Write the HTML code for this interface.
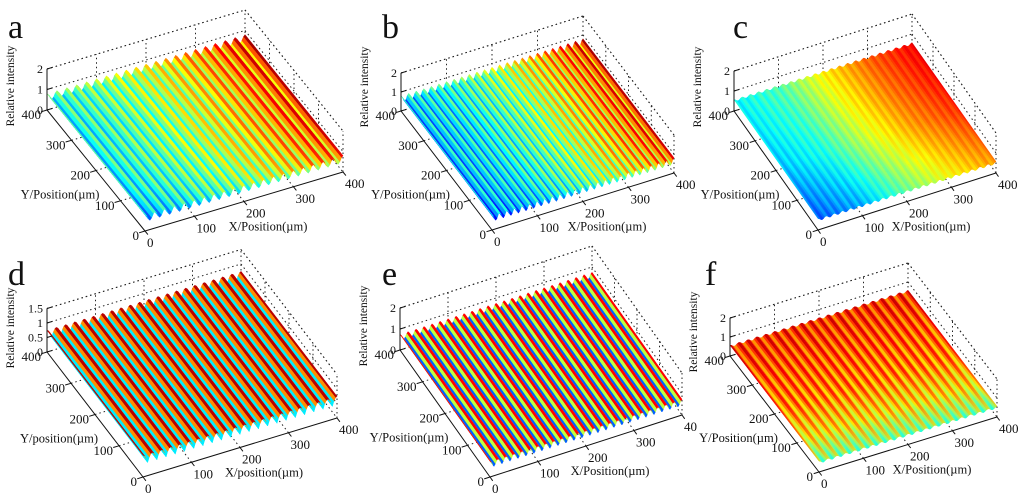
<!DOCTYPE html>
<html><head><meta charset="utf-8">
<style>
html,body{margin:0;padding:0;background:#fff;}
svg{display:block;}
text{font-family:"Liberation Serif",serif;fill:#111;}
</style></head>
<body>
<svg id="fig" width="1024" height="500" viewBox="0 0 1024 500" xmlns="http://www.w3.org/2000/svg"><defs id="defs"></defs></svg>
<script>
// ---- data per panel ----
const panelIds = ['a','b','c','d','e','f'];
const ridgeCounts = [20, 24, 22, 21, 24, 20];
// ridge-top colour intensity (0..1 on jet scale) at x = 0,100,200,300,400
const topA = [0.50,0.58,0.68,0.82,0.97];
const topB = [0.45,0.50,0.62,0.80,0.97];
const topC = [0.36,0.44,0.62,0.76,0.86];
const topD = [0.97,0.97,0.97,0.97,0.97];
const topE = [0.92,0.92,0.92,0.92,0.92];
const topF = [0.90,0.90,0.90,0.90,0.90];
// valley intensity at x = 0,100,200,300,400
const valA = [0.25,0.32,0.40,0.50,0.60];
const valB = [0.15,0.22,0.32,0.45,0.58];
const valC = [0.28,0.36,0.55,0.70,0.80];
const valD = [0.10,0.10,0.10,0.10,0.10];
const valE = [0.15,0.15,0.15,0.15,0.15];
const valF = [0.68,0.68,0.68,0.68,0.68];
// y-dependence shift at y = 0,100,200,300,400
const yShiftA = [-0.08,-0.02,0,0,0.02];
const yShiftB = [-0.06,-0.01,0,0,0.02];
const yShiftC = [-0.12,-0.06,0,0.03,0.05];
const yShiftD = [0,0,0,0,0];
const yShiftE = [0,0,0,0,0];
const yShiftF = [-0.32,-0.14,-0.04,0,0.04];
const zTicks = [[0,1,2],[0,1,2],[0,1,2],[0,0.5,1,1.5],[0,1,2],[0,1,2]];
const axisTicks = [0,100,200,300,400];
const tickLabelsX = [['0','100','200','300','400'],['0','100','200','300','400'],['0','100','200','300','400'],['0','100','200','300','400'],['0','100','200','300','40'],['0','100','200','300','400']];
const xTitles = ['X/Position(µm)','X/Position(µm)','X/Position(µm)','X/position(µm)','X/Position(µm)','X/Position(µm)'];
const yTitles = ['Y/Position(µm)','Y/Position(µm)','Y/Position(µm)','Y/position(µm)','Y/Position(µm)','Y/Position(µm)'];

// geometry (layout, not data)
const geo = [
 {O:[145,231],X:[343,172],Y:[47,110],zu:20.5,let:[8,38]},
 {O:[492,230],X:[674,173],Y:[401,111],zu:19,let:[382,38]},
 {O:[818,230],X:[996,173],Y:[734,111],zu:20,let:[733,38]},
 {O:[143,477],X:[337,418],Y:[47,352],zu:29,let:[8,285]},
 {O:[490,477],X:[682,415],Y:[400,350],zu:21,let:[382,285]},
 {O:[819,472],X:[997,417],Y:[730,356],zu:19,let:[705,285]}
];
const tops=[topA,topB,topC,topD,topE,topF], vals=[valA,valB,valC,valD,valE,valF], ysh=[yShiftA,yShiftB,yShiftC,yShiftD,yShiftE,yShiftF];
const amps=[0.35,0.35,0.12,0.3,0.3,0.12];
const sharp=[1,1,1,0.45,0.9,1];

const NS='http://www.w3.org/2000/svg';
const svg=document.getElementById('fig');
const defs=document.getElementById('defs');
function mk(tag,attrs,parent){const e=document.createElementNS(NS,tag);for(const k in attrs)e.setAttribute(k,attrs[k]);(parent||svg).appendChild(e);return e;}
function interp(arr,t){const p=t/100;const i=Math.min(3,Math.floor(p));const f=p-i;return arr[i]*(1-f)+arr[i+1]*f;}
function jet(v){v=Math.max(0,Math.min(1,v));const c=x=>Math.round(255*Math.max(0,Math.min(1,x)));
 return 'rgb('+c(1.5-Math.abs(4*v-3))+','+c(1.5-Math.abs(4*v-2))+','+c(1.5-Math.abs(4*v-1))+')';}

panelIds.forEach((id,pi)=>{
 const g=geo[pi];
 const grp=mk('g',{});
 
 
 const ex=[(g.X[0]-g.O[0])/400,(g.X[1]-g.O[1])/400], ey=[(g.Y[0]-g.O[0])/400,(g.Y[1]-g.O[1])/400];
 const P=(x,y,z)=>[g.O[0]+x*ex[0]+y*ey[0], g.O[1]+x*ex[1]+y*ey[1]-z*g.zu];
 const zmax=zTicks[pi][zTicks[pi].length-1];
 const box=mk('g',{stroke:'#222','stroke-width':1,'stroke-dasharray':'1.5,3',fill:'none'},grp);
 
 
 const line=(a,b,par)=>mk('line',{x1:a[0].toFixed(1),y1:a[1].toFixed(1),x2:b[0].toFixed(1),y2:b[1].toFixed(1)},par);
 line(P(0,400,zmax),P(400,400,zmax),box);line(P(400,400,zmax),P(400,0,zmax),box);
 line(P(400,400,0),P(400,400,zmax),box);line(P(400,0,0),P(400,0,zmax),box);
 line(P(0,400,0),P(400,400,0),box);line(P(400,400,0),P(400,0,0),box);
 zTicks[pi].slice(1).forEach(z=>{line(P(0,400,z),P(400,400,z),box);line(P(400,400,z),P(400,0,z),box);});
 [100,200,300].forEach(t=>{line(P(t,400,0),P(t,400,zmax),box);line(P(400,t,0),P(400,t,zmax),box);
   line(P(t,0,0),P(t,400,0),box);line(P(0,t,0),P(400,t,0),box);});
 const surf=mk('g',{},grp);
 
 
 const nr=ridgeCounts[pi], nx=nr*6;
 const h=(x)=>{const ph=x/400*nr;const c=0.5+0.5*Math.cos(2*Math.PI*ph);return Math.pow(c,sharp[pi]);};
 for(let i=nx-1;i>=0;i--){
  const x0=i*400/nx,x1=(i+1)*400/nx,xm=(x0+x1)/2;
  const z0=0.45+amps[pi]*h(x0), z1=0.45+amps[pi]*h(x1);
  const hv=h(xm);
  const base=interp(vals[pi],xm)+(interp(tops[pi],xm)-interp(vals[pi],xm))*hv;
  const gid='g'+id+i;
  const a=P(xm,0,0),b=P(xm,400,0);
  const lg=mk('linearGradient',{id:gid,gradientUnits:'userSpaceOnUse',x1:a[0].toFixed(1),y1:a[1].toFixed(1),x2:b[0].toFixed(1),y2:b[1].toFixed(1)},defs);
  axisTicks.forEach((t,k)=>{mk('stop',{offset:(t/400).toFixed(2),'stop-color':jet(base+ysh[pi][k])},lg);});
  const pts=[P(x0,0,z0),P(x1,0,z1),P(x1,400,z1),P(x0,400,z0)].map(p=>p[0].toFixed(1)+','+p[1].toFixed(1)).join(' ');
  mk('polygon',{points:pts,fill:'url(#'+gid+')',stroke:'url(#'+gid+')','stroke-width':0.5},surf);
 }
 const ax=mk('g',{stroke:'#111','stroke-width':1,fill:'none'},grp);
 
 
 line(P(0,0,0),P(400,0,0),ax);line(P(0,0,0),P(0,400,0),ax);line(P(0,400,0),P(0,400,zmax),ax);
 const lab=mk('g',{'font-size':13},grp);
 
 
 axisTicks.forEach((t,k)=>{
  let p=P(t,0,0);line(p,[p[0]-ey[0]*12,p[1]-ey[1]*12],ax);
  const tx=mk('text',{x:(p[0]+2).toFixed(1),y:(p[1]+16).toFixed(1)},lab);tx.textContent=tickLabelsX[pi][k];
  p=P(0,t,0);line(p,[p[0]-ex[0]*12,p[1]-ex[1]*12],ax);
  const ty=mk('text',{x:(p[0]-6).toFixed(1),y:(p[1]+9).toFixed(1),'text-anchor':'end'},lab);ty.textContent=String(t);
 });
 zTicks[pi].forEach(z=>{const p=P(0,400,z);line(p,[p[0]+5,p[1]-1.5],ax);
  const tz=mk('text',{x:(p[0]-4).toFixed(1),y:(p[1]+4).toFixed(1),'text-anchor':'end','font-size':12},lab);tz.textContent=String(z);});
 const mx=P(200,0,0);
 const xt=mk('text',{x:(mx[0]+24).toFixed(1),y:(mx[1]+29).toFixed(1),'text-anchor':'middle','font-size':12.5},grp);
 xt.textContent=xTitles[pi];
 const my=P(0,200,0);
 const yt=mk('text',{x:(my[0]-36).toFixed(1),y:(my[1]+28).toFixed(1),'text-anchor':'middle','font-size':12.5},grp);
 yt.textContent=yTitles[pi];
 const zc=P(0,400,0);
 const zt=mk('text',{transform:'translate('+(zc[0]-33).toFixed(1)+','+(zc[1]-24).toFixed(1)+') rotate(-90)','text-anchor':'middle','font-size':11.5},grp);
 zt.textContent='Relative intensity';
 const L=mk('text',{x:g.let[0],y:g.let[1],'font-size':34},grp);
 L.textContent=id;
});
</script>
</body></html>
